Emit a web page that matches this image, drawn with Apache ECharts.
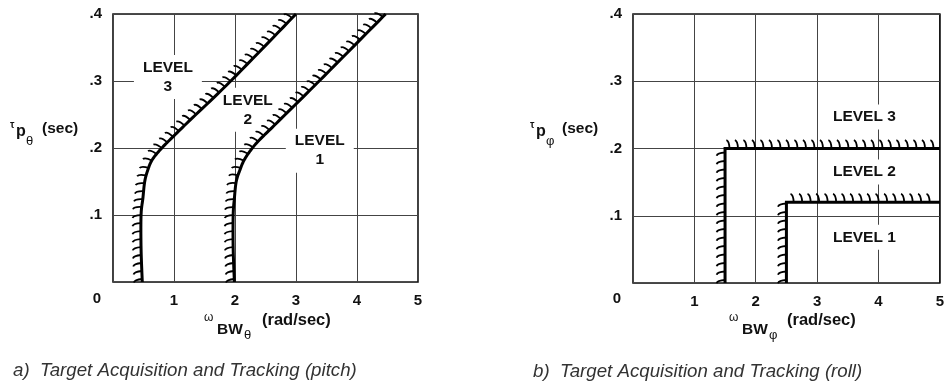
<!DOCTYPE html>
<html><head><meta charset="utf-8">
<script src="https://cdn.jsdelivr.net/npm/echarts@6/dist/echarts.min.js"></script>
<style>html,body{margin:0;padding:0;background:#fff}#c{width:947px;height:385px}</style>
</head><body><div id="c"></div>
<script>
// ---- tick labels ----
const xTickLabels = ['', '1', '2', '3', '4', '5'];
const yTickLabels = ['', '.1', '.2', '.3', '.4'];

// ---- (a) pitch boundaries (omega_BW, tau_p) ----
const pitchL3X = [0.48, 0.46, 0.46, 0.49, 0.52, 0.57, 0.64, 0.77, 0.93, 1.21, 1.93, 3.0];
const pitchL3Y = [0, 0.05, 0.1, 0.125, 0.15, 0.167, 0.182, 0.197, 0.212, 0.237, 0.3, 0.4];
const pitchL2X = [1.99, 1.97, 1.97, 1.99, 2.02, 2.08, 2.15, 2.26, 2.4, 2.68, 3.38, 4.47];
const pitchL2Y = [0, 0.05, 0.1, 0.125, 0.15, 0.167, 0.182, 0.197, 0.212, 0.237, 0.3, 0.4];
const pitchLabelX = [0.9, 2.21, 3.39];
const pitchLabelY = [0.306, 0.257, 0.196];
const pitchLabelText = ['LEVEL\n3', 'LEVEL\n2', 'LEVEL\n1'];

// ---- (b) roll boundaries ----
const rollL3X = [1.5, 1.5, 5];
const rollL3Y = [0, 0.2, 0.2];
const rollL2X = [2.5, 2.5, 5];
const rollL2Y = [0, 0.12, 0.12];
const rollLabelX = [3.77, 3.77, 3.77];
const rollLabelY = [0.247, 0.165, 0.068];
const rollLabelText = ['LEVEL 3', 'LEVEL 2', 'LEVEL 1'];

// ---- drawing helpers ----
function catmull(pts, n) {
  const out = [];
  for (let i = 0; i < pts.length - 1; i++) {
    const p0 = pts[Math.max(0, i - 1)], p1 = pts[i], p2 = pts[i + 1], p3 = pts[Math.min(pts.length - 1, i + 2)];
    for (let k = 0; k < n; k++) {
      const t = k / n, t2 = t * t, t3 = t2 * t;
      out.push([0, 1].map(j => 0.5 * ((2 * p1[j]) + (-p0[j] + p2[j]) * t +
        (2 * p0[j] - 5 * p1[j] + 4 * p2[j] - p3[j]) * t2 + (-p0[j] + 3 * p1[j] - 3 * p2[j] + p3[j]) * t3)));
    }
  }
  out.push(pts[pts.length - 1]);
  return out;
}
function hatchSeries(xs, ys, xi, yi, opt) {
  const data = xs.map((x, i) => [x, ys[i]]);
  return {
    type: 'custom', xAxisIndex: xi, yAxisIndex: yi, z: 5, silent: true,
    data: data,
    encode: { x: 0, y: 1 },
    renderItem: function (params, api) {
      if (params.dataIndex !== 0) return null;
      let pts = data.map(d => api.coord(d));
      if (opt.smooth) pts = catmull(pts, 12);
      const children = [];
      const cum = [0];
      for (let i = 1; i < pts.length; i++) cum.push(cum[i - 1] + Math.hypot(pts[i][0] - pts[i - 1][0], pts[i][1] - pts[i - 1][1]));
      const total = cum[cum.length - 1];
      let seg = 0;
      const L0 = opt.len;
      for (let s = opt.start; s < total - opt.end; s += opt.spacing) {
        while (seg < pts.length - 2 && cum[seg + 1] < s) seg++;
        const a = pts[seg], b = pts[seg + 1];
        const L = cum[seg + 1] - cum[seg] || 1;
        const f = (s - cum[seg]) / L;
        const px = a[0] + (b[0] - a[0]) * f, py = a[1] + (b[1] - a[1]) * f;
        const tx = (b[0] - a[0]) / L, ty = (b[1] - a[1]) / L;
        const nx = ty, ny = -tx;
        children.push({
          type: 'bezierCurve',
          shape: {
            x1: px, y1: py,
            cpx1: px + nx * L0 * 0.95 - tx * L0 * 0.05, cpy1: py + ny * L0 * 0.95 - ty * L0 * 0.05,
            x2: px + nx * L0 * 1.05 - tx * L0 * 0.4, y2: py + ny * L0 * 1.05 - ty * L0 * 0.4
          },
          style: { stroke: '#000', lineWidth: 1.8, fill: null }
        });
      }
      children.push({
        type: 'polyline', shape: { points: pts },
        style: { stroke: '#000', lineWidth: 3, fill: null, lineJoin: 'miter' }
      });
      return { type: 'group', children: children };
    }
  };
}
const FF = 'Liberation Sans, Arial, sans-serif';
function labelSeries(xs, ys, texts, xi, yi, pad) {
  return {
    type: 'scatter', xAxisIndex: xi, yAxisIndex: yi, symbolSize: 0, z: 4, silent: true,
    itemStyle: { opacity: 1 },
    data: xs.map((x, i) => ({ value: [x, ys[i]], name: texts[i] })),
    label: {
      show: true, position: 'inside', formatter: p => p.name,
      fontFamily: FF, fontWeight: 'bold', fontSize: 15.5,
      color: '#111', lineHeight: 19, align: 'center', verticalAlign: 'middle',
      backgroundColor: '#fff', padding: pad
    }
  };
}
function axisX(gi) {
  return {
    type: 'value', gridIndex: gi, min: 0, max: 5, interval: 1,
    axisLine: { show: false }, axisTick: { show: false },
    splitLine: { show: true, lineStyle: { color: '#444', width: 1 } },
    axisLabel: {
      margin: 11, formatter: v => xTickLabels[Math.round(v)],
      fontFamily: FF, fontWeight: 'bold', fontSize: 15, color: '#111'
    }
  };
}
function axisY(gi) {
  return {
    type: 'value', gridIndex: gi, min: 0, max: 0.4, interval: 0.1,
    axisLine: { show: false }, axisTick: { show: false },
    splitLine: { show: true, lineStyle: { color: '#444', width: 1 } },
    axisLabel: {
      margin: 11, formatter: v => yTickLabels[Math.round(v * 10)],
      fontFamily: FF, fontWeight: 'bold', fontSize: 15, color: '#111'
    }
  };
}
function txt(x, y, text, size, weight, style, align) {
  return {
    type: 'text', x: x, y: y, silent: true, z: 10,
    style: {
      text: text, fill: '#111', align: align || 'left', verticalAlign: 'middle',
      font: (style || 'normal') + ' ' + (weight || 'bold') + ' ' + size + 'px ' + FF
    }
  };
}
function yName(x0, sub) {
  return [
    txt(x0, 125, 'τ', 10, 'bold'),
    txt(x0 + 6, 132, 'p', 16, 'bold'),
    txt(x0 + 16, 141, sub, 13, 'normal'),
    txt(x0 + 32, 129, '(sec)', 15.5, 'bold')
  ];
}
function xName(x0, sub) {
  return [
    txt(x0, 318, 'ω', 12, 'normal'),
    txt(x0 + 13, 330, 'BW', 15.5, 'bold'),
    txt(x0 + 40, 335, sub, 13, 'normal'),
    txt(x0 + 58, 320, '(rad/sec)', 16.5, 'bold')
  ];
}

const chart = echarts.init(document.getElementById('c'), null, { renderer: 'canvas' });
chart.setOption({
  backgroundColor: '#fff',
  animation: false,
  grid: [
    { left: 113, top: 14, width: 305, height: 268, show: true, borderColor: '#111', borderWidth: 1.6, backgroundColor: 'transparent' },
    { left: 633, top: 14, width: 312, height: 269, show: true, borderColor: '#111', borderWidth: 1.6, backgroundColor: 'transparent' }
  ],
  xAxis: [axisX(0), axisX(1)],
  yAxis: [axisY(0), axisY(1)],
  series: [
    hatchSeries(pitchL3X, pitchL3Y, 0, 0, { smooth: true, spacing: 8, len: 8, start: 3, end: 2 }),
    hatchSeries(pitchL2X, pitchL2Y, 0, 0, { smooth: true, spacing: 8, len: 8, start: 3, end: 2 }),
    hatchSeries(rollL3X, rollL3Y, 1, 1, { smooth: false, spacing: 8.5, len: 8, start: 3, end: 3 }),
    hatchSeries(rollL2X, rollL2Y, 1, 1, { smooth: false, spacing: 8.5, len: 8, start: 3, end: 3 }),
    labelSeries(pitchLabelX, pitchLabelY, pitchLabelText, 0, 0, [3, 9]),
    labelSeries(rollLabelX, rollLabelY, rollLabelText, 1, 1, [3, 4])
  ],
  graphic: [].concat(
    [txt(97, 299, '0', 15, 'bold', 'normal', 'center'), txt(617, 299, '0', 15, 'bold', 'normal', 'center')],
    yName(10, 'θ'), yName(530, 'φ'),
    xName(204, 'θ'), xName(729, 'φ'),
    [
      { type: 'text', x: 13, y: 371, silent: true, style: { text: 'a)  Target Acquisition and Tracking (pitch)', fill: '#333', verticalAlign: 'middle', font: 'italic normal 18.7px ' + FF } },
      { type: 'text', x: 533, y: 372, silent: true, style: { text: 'b)  Target Acquisition and Tracking (roll)', fill: '#333', verticalAlign: 'middle', font: 'italic normal 18.7px ' + FF } }
    ]
  )
});
</script></body></html>
